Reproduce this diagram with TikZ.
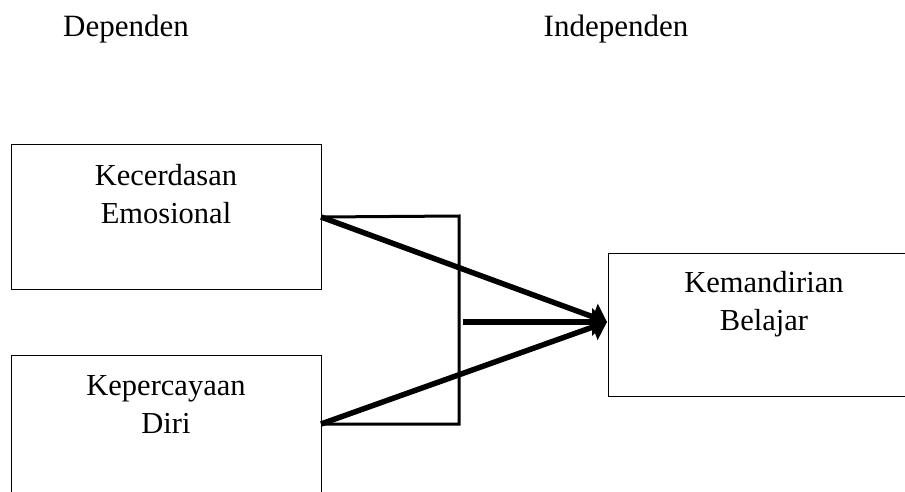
\documentclass[tikz,border=0pt]{standalone}
\usepackage{fontspec}
\setmainfont{Liberation Serif}
\usetikzlibrary{arrows.meta}
\begin{document}
\begin{tikzpicture}[x=1pt,y=-1pt,
  box/.style={draw,line width=1pt,inner sep=0pt,outer sep=0pt,anchor=north west},
  txt/.style={inner sep=0pt,outer sep=0pt,align=center,anchor=base,font=\fontsize{30.5}{38}\selectfont},
  head/.style={inner sep=0pt,outer sep=0pt,anchor=base,font=\fontsize{31}{38}\selectfont},
  bracket/.style={line width=3pt},
  thick arrow/.style={line width=5.5pt,-{Triangle[length=15pt,width=27pt]}}]
\clip (0,0) rectangle (905,492);
\fill[white] (0,0) rectangle (905,492);
% headers
\node[head] (hdep) at (126,37) {Dependen};
\node[head] (hind) at (616,37) {Independen};
% boxes
\node[box,minimum width=310pt,minimum height=144pt] (b1) at (11,145) {};
\node[box,minimum width=310pt,minimum height=138pt] (b2) at (11,355) {};
\node[box,minimum width=312pt,minimum height=143pt] (b3) at (608,253) {};
% texts (anchor base = baseline of the last line)
\node[txt] (t1) at (166,223) {Kecerdasan\\Emosional};
\node[txt] (t2) at (166,433) {Kepercayaan\\Diri};
\node[txt] (t3) at (764,330) {Kemandirian\\Belajar};
% bracket
\coordinate (c1) at (459,216);
\coordinate (c2) at (459,424);
\coordinate (hs) at (463,322);
\coordinate (tip) at (607,322);
\draw[bracket] (b1.east) -- (c1) -- (c2) -- (b2.east);
% arrows
\draw[thick arrow] (b1.east) -- (tip);
\draw[thick arrow] (b2.east) -- (tip);
\draw[thick arrow] (hs) -- (tip);
\end{tikzpicture}
\end{document}
